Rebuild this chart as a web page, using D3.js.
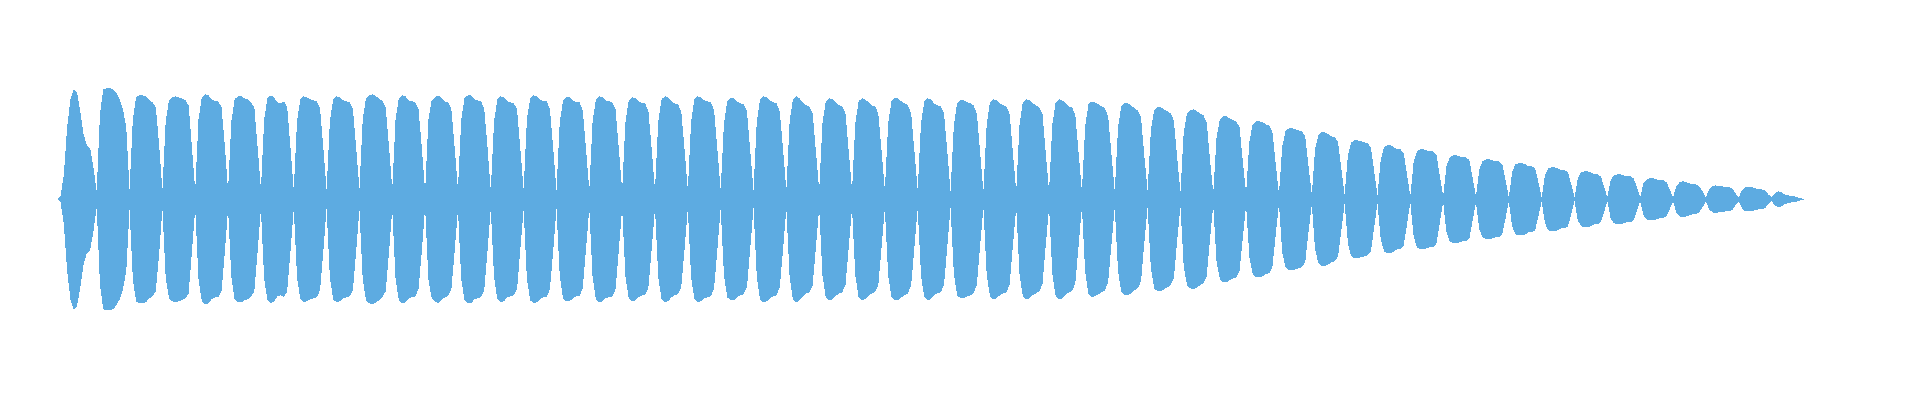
<!DOCTYPE html>
<html>
<head>
<meta charset="utf-8">
<script src="https://cdn.jsdelivr.net/npm/d3@7"></script>
<style>
  html, body { margin: 0; padding: 0; background: #ffffff; }
  svg { display: block; }
</style>
</head>
<body>
<svg id="chart" width="1920" height="400"></svg>
<script>
// Waveform envelope (peak amplitude per sample), grouped by pulse.
// Onset pulse (before the first dip)
const onset = [0, 3, 25, 72, 100, 110, 107, 88, 65, 54, 51, 32];
// Steady pulses: each row starts at a dip between pulses
const pulses = [
  [8, 86, 110, 111, 111, 110, 106, 100, 90, 72],
  [10, 80, 102, 104, 104, 103, 99, 97, 92, 55],
  [9, 78, 99, 102, 103, 102, 101, 99, 94, 52],
  [9, 80, 102, 105, 104, 100, 98, 98, 92, 54],
  [9, 78, 100, 103, 103, 101, 100, 97, 92, 52],
  [10, 80, 101, 104, 102, 97, 96, 98, 92, 52],
  [9, 78, 100, 103, 102, 100, 99, 98, 91, 52],
  [9, 78, 100, 103, 102, 99, 98, 97, 91, 52],
  [10, 80, 101, 104, 105, 103, 101, 98, 92, 53],
  [10, 80, 101, 104, 103, 99, 98, 97, 90, 52],
  [8, 80, 99, 102, 104, 101, 98, 97, 90, 52],
  [10, 80, 101, 104, 104, 100, 99, 98, 91, 52],
  [9, 78, 100, 103, 102, 98, 97, 96, 90, 50],
  [10, 80, 101, 104, 103, 100, 98, 98, 90, 52],
  [9, 77, 99, 102, 102, 99, 97, 97, 89, 50],
  [9, 78, 100, 103, 102, 99, 98, 97, 90, 50],
  [9, 77, 99, 102, 101, 98, 96, 96, 88, 50],
  [9, 78, 100, 103, 102, 98, 96, 95, 88, 50],
  [9, 78, 100, 103, 102, 99, 98, 97, 89, 50],
  [9, 76, 98, 101, 101, 98, 96, 95, 88, 49],
  [9, 78, 100, 103, 102, 99, 97, 96, 88, 50],
  [9, 78, 100, 103, 101, 97, 94, 93, 86, 48],
  [9, 76, 98, 101, 100, 97, 94, 93, 86, 48],
  [9, 76, 98, 101, 100, 97, 94, 93, 86, 48],
  [9, 76, 98, 101, 101, 98, 96, 94, 86, 48],
  [9, 76, 98, 101, 100, 96, 94, 93, 86, 48],
  [8, 74, 96, 99, 99, 97, 96, 94, 86, 47],
  [8, 75, 97, 100, 99, 96, 94, 93, 85, 46],
  [8, 75, 97, 100, 99, 96, 94, 92, 85, 46],
  [8, 75, 97, 100, 99, 96, 93, 92, 84, 46],
  [8, 73, 95, 98, 97, 95, 93, 91, 83, 45],
  [8, 72, 93, 96, 96, 94, 91, 89, 82, 44],
  [8, 69, 89, 92, 92, 90, 88, 86, 79, 42]
];
// Decaying pulses
const decay = [
  [7, 67, 86, 89, 90, 88, 86, 84, 77, 40],
  [6, 62, 80, 83, 83, 81, 79, 78, 72, 38],
  [6, 58, 75, 78, 78, 77, 75, 74, 68, 36],
  [5, 53, 68, 71, 71, 70, 69, 68, 63, 33],
  [5, 50, 64, 67, 67, 65, 63, 62, 57, 31],
  [4, 44, 57, 59, 59, 58, 57, 56, 52, 28],
  [4, 40, 52, 54, 54, 52, 50, 50, 46, 25],
  [3, 37, 48, 50, 50, 49, 48, 48, 44, 23],
  [3, 33, 42, 44, 44, 43, 42, 42, 39, 21],
  [3, 30, 38, 40, 40, 39, 38, 38, 35, 19],
  [2, 27, 35, 36, 36, 35, 33, 33, 31, 17],
  [2, 24, 31, 32, 32, 31, 29, 29, 27, 15],
  [2, 21, 27, 28, 28, 27, 25, 25, 23, 13],
  [2, 19, 24, 25, 25, 24, 23, 23, 21, 12],
  [2, 16, 20, 21, 21, 20, 19, 19, 17, 10],
  [2, 13, 17, 18, 17, 16, 15, 15, 13, 8],
  [2, 10, 13, 14, 13, 13, 12, 12, 11, 6],
  [2, 9, 12, 12, 12, 11, 10, 10, 9, 5]
];
// Final pulse, fading out
const release = [2, 6, 8, 7, 5, 4, 3, 3, 2, 1, 0];

const samples = onset.concat(pulses.flat(), decay.flat(), release);

const svg = d3.select("#chart");

const x = d3.scaleLinear()
  .domain([0, samples.length - 1])
  .range([57.3, 1804.4]);

const y = d3.scaleLinear()
  .domain([-120, 120])
  .range([319.3, 79.3]);

const area = d3.area()
  .x((d, i) => x(i))
  .y0(d => y(-d))
  .y1(d => y(d))
  .curve(d3.curveLinear);

svg.append("path")
  .datum(samples)
  .attr("d", area)
  .attr("fill", "#5dabe1")
  .attr("stroke", "none")
  .attr("shape-rendering", "crispEdges");
</script>
</body>
</html>
